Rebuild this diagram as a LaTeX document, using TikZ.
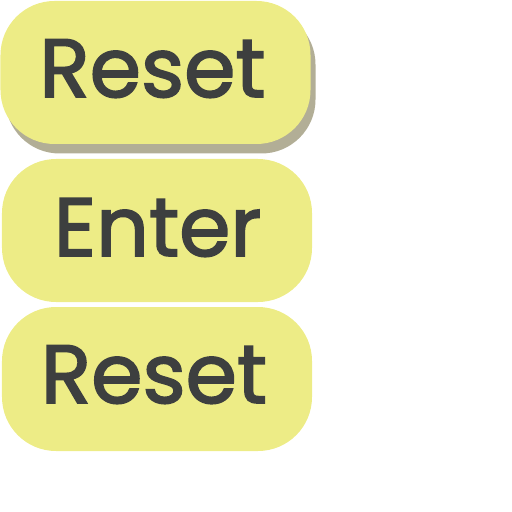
\documentclass[tikz,border=0pt]{standalone}
\usepackage{fontspec}
\setmainfont{Poppins}
\newfontfamily\btnfont{Poppins}[FakeBold=2]
\definecolor{btnfill}{HTML}{EDEC86}
\definecolor{btnshadow}{HTML}{B2AE96}
\definecolor{btntext}{HTML}{3D3F3F}
\begin{document}
\begin{tikzpicture}[x=1bp,y=-1bp,
  btn/.style={rectangle, rounded corners=54bp, fill=btnfill, draw=none,
    minimum width=310bp, minimum height=143bp, inner sep=0pt, outer sep=0pt},
  btnshade/.style={btn, fill=btnshadow},
  lbl/.style={anchor=base, text=btntext, inner sep=0pt,
    font=\btnfont\fontsize{83}{90}\selectfont}]
\useasboundingbox (0,0) rectangle (512,512);
% button 1 (with shadow)
\node[btnshade] (s1) at (160.5,82) {};
\node[btn] (b1) at (155.5,72.5) {};
\node[lbl] (t1) at (152.5,97) {Reset};
% button 2
\node[btn] (b2) at (157,230.5) {};
\node[lbl] (t2) at (157.5,256) {Enter};
% button 3
\node[btn, minimum height=144bp] (b3) at (157,379) {};
\node[lbl] (t3) at (154,403) {Reset};
\end{tikzpicture}
\end{document}
